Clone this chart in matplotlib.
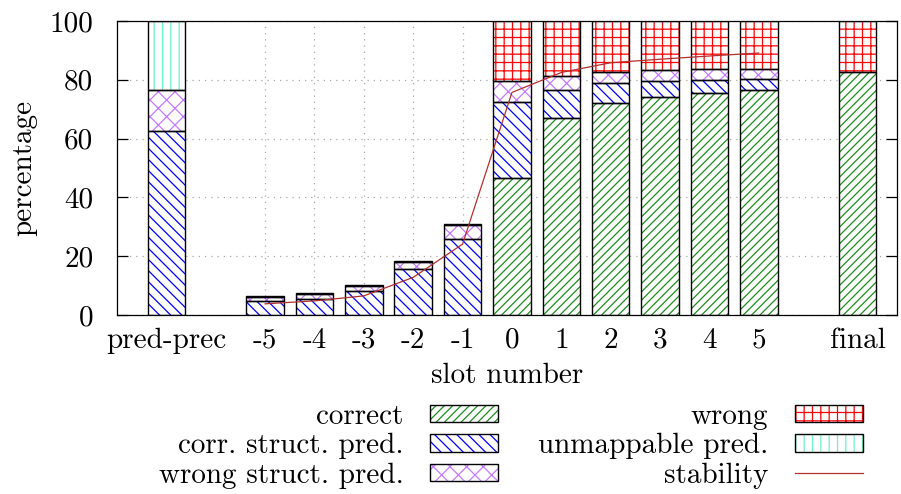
import matplotlib
matplotlib.use("Agg")
import matplotlib.pyplot as plt
from matplotlib.patches import Patch, Rectangle
from matplotlib.lines import Line2D
from matplotlib.legend_handler import HandlerPatch
import numpy as np

# Slot categories along the x axis
categories = ["pred-prec", "-5", "-4", "-3", "-2", "-1", "0", "1", "2", "3", "4", "5", "final"]

# Stacked percentages per slot
correct       = [0.0, 0.0, 0.0, 0.0, 0.0, 0.0, 46.5, 66.9, 72.0, 74.3, 75.6, 76.4, 82.7]
corr_struct   = [62.6, 4.8, 5.5, 8.2, 15.5, 25.7, 25.9, 9.6, 6.8, 5.4, 4.4, 3.9, 0.0]
wrong_struct  = [13.8, 1.2, 1.5, 1.5, 2.6, 4.8, 7.1, 4.9, 3.9, 3.5, 3.6, 3.3, 0.0]
wrong         = [0.0, 0.4, 0.4, 0.4, 0.4, 0.4, 20.5, 18.6, 17.3, 16.8, 16.4, 16.4, 17.3]
unmappable    = [23.6, 0.0, 0.0, 0.0, 0.0, 0.0, 0.0, 0.0, 0.0, 0.0, 0.0, 0.0, 0.0]

# Stability curve over slots -5 .. 5
stab_slots = ["-5", "-4", "-3", "-2", "-1", "0", "1", "2", "3", "4", "5"]
stability  = [3.8, 4.8, 6.5, 12.8, 24.1, 75.7, 82.5, 85.8, 87.0, 88.1, 89.1]

plt.rcParams["font.family"] = ["cmr10", "DejaVu Serif"]
plt.rcParams["axes.unicode_minus"] = False
plt.rcParams["hatch.linewidth"] = 0.9
plt.rcParams["axes.linewidth"] = 0.9

FS = 21

# x positions: one empty slot on each side of the pred-prec and final bars
xpos = {}
for c in categories:
    if c == "pred-prec":
        xpos[c] = -7
    elif c == "final":
        xpos[c] = 7
    else:
        xpos[c] = int(c)
x = np.array([xpos[c] for c in categories], dtype=float)

fig = plt.figure(figsize=(9.01, 4.94), dpi=100)
ax = fig.add_axes([117 / 901, 1 - 315 / 494, (897 - 117) / 901, (315 - 21) / 494])

series = [
    ("correct", correct, "#1f8a1f", "////"),
    ("corr. struct. pred.", corr_struct, "#0000ff", "\\\\\\"),
    ("wrong struct. pred.", wrong_struct, "#c27cff", "xx"),
    ("wrong", wrong, "#ff0000", "++"),
    ("unmappable pred.", unmappable, "#6ff2c8", "||"),
]

width = 0.76
bottom = np.zeros(len(categories))
handles = {}
for name, vals, col, hatch in series:
    v = np.array(vals, dtype=float)
    mask = v > 0
    ax.bar(x[mask], v[mask], width, bottom=bottom[mask], facecolor="white",
           edgecolor=col, hatch=hatch, linewidth=0, zorder=2)
    ax.bar(x[mask], v[mask], width, bottom=bottom[mask], fill=False,
           edgecolor="black", linewidth=1.0, zorder=3)
    bottom += v
    handles[name] = Patch(facecolor="white", edgecolor=col, hatch=hatch, linewidth=0)

sx = np.array([xpos[s] for s in stab_slots], dtype=float)
ax.plot(sx, stability, color="#b03030", linewidth=0.9, zorder=4)

ax.set_xlim(-8, 7.8)
ax.set_ylim(0, 100)
ax.set_yticks(np.arange(0, 101, 20))
ax.set_xticks(x)
ax.set_xticklabels(categories)
ax.tick_params(axis="x", length=0, pad=9, labelsize=FS)
ax.tick_params(axis="y", direction="in", length=8, width=0.9, pad=17,
               labelsize=FS, right=True)

# dotted grid behind the bars
ax.set_axisbelow(True)
ax.grid(True, color="#a8a8a8", linewidth=0.9, linestyle=(0, (1, 4)))

ax.set_xlabel("slot number", fontsize=FS, labelpad=6)
ax.set_ylabel("percentage", fontsize=FS, labelpad=9)


class HatchBoxHandler(HandlerPatch):
    """Hatched legend box with a black frame."""

    def create_artists(self, legend, orig_handle, xdescent, ydescent, width, height, fontsize, trans):
        r1 = Rectangle((-xdescent, -ydescent), width, height, facecolor="white",
                       edgecolor=orig_handle.get_edgecolor(), hatch=orig_handle.get_hatch(),
                       linewidth=0, transform=trans)
        r2 = Rectangle((-xdescent, -ydescent), width, height, fill=False,
                       edgecolor="black", linewidth=1.0, transform=trans)
        return [r1, r2]


stab_handle = Line2D([], [], color="#b03030", linewidth=0.9)
order = ["correct", "corr. struct. pred.", "wrong struct. pred.", "wrong", "unmappable pred."]
hl = [handles[n] for n in order] + [stab_handle]
ll = order + ["stability"]
fig.legend(hl, ll, loc="upper center", bbox_to_anchor=(0.567, 0.213), ncol=2,
           frameon=False, markerfirst=False, fontsize=FS, handlelength=2.33,
           handleheight=0.55, handletextpad=0.9, labelspacing=0.11, columnspacing=1.38,
           borderpad=0, handler_map={Patch: HatchBoxHandler()})

fig.savefig("out.png", dpi=100)
